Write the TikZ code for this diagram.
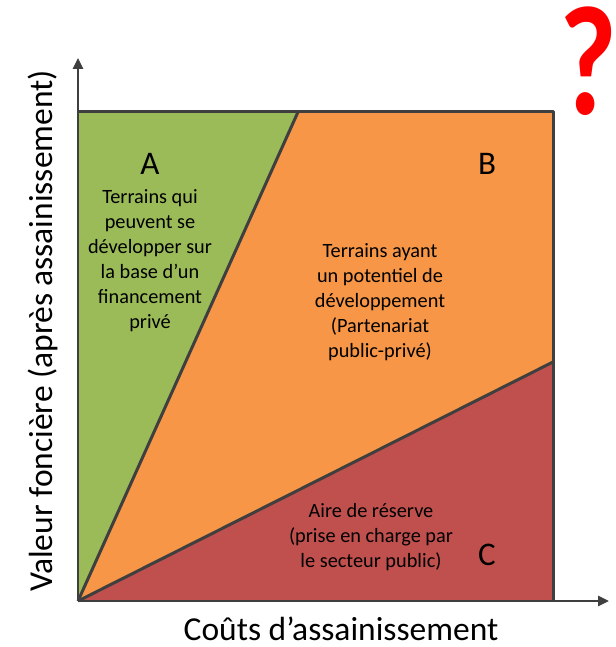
\documentclass[tikz,border=0pt]{standalone}
\usepackage{fontspec}
\setmainfont{Carlito}
\usetikzlibrary{arrows.meta}
\definecolor{zoneA}{HTML}{9BBB59}
\definecolor{zoneB}{HTML}{F79646}
\definecolor{zoneC}{HTML}{C0504D}
\definecolor{linegray}{HTML}{3F3F3F}
\begin{document}
\begin{tikzpicture}[x=1pt,y=-1pt,
  outline/.style={draw=linegray,line width=3pt,line join=round},
  axisline/.style={draw=linegray,line width=2.6pt,-{Triangle[length=11pt,width=10pt]}},
  letter/.style={font=\fontsize{33}{36}\selectfont,text=black,inner sep=0pt},
  zonetext/.style={font=\fontsize{20.3}{25}\selectfont,align=center,text=black,inner sep=0pt},
  axislabel/.style={font=\fontsize{33.5}{36}\selectfont,text=black,inner sep=0pt,anchor=base}]
\useasboundingbox (0,0) rectangle (615,647);

% corner points of the chart
\coordinate (O) at (78,601);
\coordinate (TL) at (78,112);
\coordinate (TM) at (298,112);
\coordinate (TR) at (553,112);
\coordinate (RM) at (553,362);
\coordinate (BR) at (553,601);
\coordinate (ytip) at (78,58);
\coordinate (xtip) at (609,601);

% the three zones
\fill[zoneA] (O) -- (TL) -- (TM) -- cycle;
\fill[zoneB] (O) -- (TM) -- (TR) -- (RM) -- cycle;
\fill[zoneC] (O) -- (RM) -- (BR) -- cycle;

% frame and dividing lines
\draw[outline] (TL) -- (TR) -- (BR);
\draw[outline] (O) -- (TM);
\draw[outline] (O) -- (RM);

% axes
\draw[axisline] (O) -- (ytip);
\draw[axisline] (O) -- (xtip);

% zone letters
\node[letter] (la) at (150,164) {A};
\node[letter] (lb) at (487,164) {B};
\node[letter] (lc) at (487,555) {C};

% zone descriptions
\node[zonetext] (ta) at (150,261) {Terrains qui\\peuvent se\\développer sur\\la base d’un\\financement\\privé};
\node[zonetext] (tb) at (380,302) {Terrains ayant\\un potentiel de\\développement\\(Partenariat\\public-privé)};
\node[zonetext] (tc) at (371,537) {Aire de réserve\\(prise en charge par\\le secteur public)};

% axis titles
\node[axislabel,rotate=90] (ylab) at (52,331) {Valeur foncière (après assainissement)};
\node[axislabel] (xlab) at (341,640) {Coûts d’assainissement};

% question mark
\node[font=\bfseries\fontsize{156}{160}\selectfont,text=red,inner sep=0pt,anchor=base,
      text height=106pt,text depth=0pt,xscale=0.8] (qm) at (588,115) {?};
\end{tikzpicture}
\end{document}
